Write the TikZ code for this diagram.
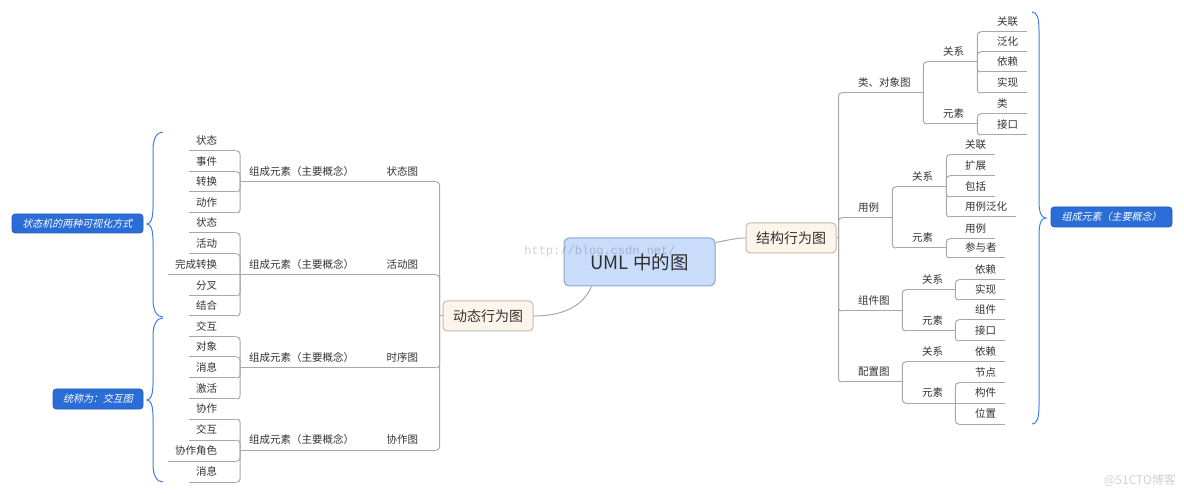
\documentclass[tikz,border=0pt]{standalone}
\usepackage{fontspec}
\setmainfont{Noto Sans CJK SC}
\newfontfamily\cjkit[FakeSlant=0.22]{Noto Sans CJK SC}
\newfontfamily\wmfont{Liberation Mono}
\usetikzlibrary{calc}
\definecolor{txt}{HTML}{333333}
\definecolor{lnc}{HTML}{A8A8A8}
\definecolor{corefill}{HTML}{C9DCFA}
\definecolor{coredraw}{HTML}{8AA5D0}
\definecolor{subfill}{HTML}{FDF4EB}
\definecolor{subdraw}{HTML}{C4BBB1}
\definecolor{tagblue}{HTML}{2A6DD6}
\definecolor{braceblue}{HTML}{3C7EE6}
\tikzset{
  topic/.style={inner sep=0pt, minimum height=20pt, text=txt, font=\fontsize{10.5}{12}\selectfont},
  ln/.style={draw=lnc, line width=1pt},
  cn/.style={draw=lnc, line width=1pt, rounded corners=3pt},
  core/.style={draw=coredraw, fill=corefill, rounded corners=5pt, line width=1pt, text=txt!90!black, font=\fontsize{18.5}{22}\selectfont, minimum width=151pt, minimum height=48pt, inner sep=0pt},
  sub/.style={draw=subdraw, fill=subfill, rounded corners=4pt, line width=1pt, text=txt, font=\fontsize{14}{16}\selectfont, minimum width=90pt, minimum height=30pt, inner sep=0pt},
  tag/.style={draw=tagblue!85!black, fill=tagblue, rounded corners=3pt, text=white, font=\cjkit\fontsize{10}{12}\selectfont, inner sep=0pt, line width=0.6pt},
  brace/.style={draw=braceblue, line width=1pt},
  wm/.style={text=black, opacity=0.18, inner sep=0pt}
}
\newcommand\RT[6]{\node[topic,anchor=south west] (#1) at (#2,#3) {\makebox[#4pt][l]{\hspace*{#5pt}#6}}; \draw[ln] (#1.south west) -- (#1.south east);}
\newcommand\LT[6]{\node[topic,anchor=south west] (#1) at (#2,#3) {\makebox[#4pt][r]{#6\hspace*{#5pt}}}; \draw[ln] (#1.south west) -- (#1.south east);}
\begin{document}
\begin{tikzpicture}[x=1pt,y=-1pt]
\fill[white] (0,0) rectangle (1184,494);
\useasboundingbox (0,0) rectangle (1184,494);

% main boxes
\node[core] (uml) at (639.5,262) {UML 中的图};
\node[sub] (dyn) at (488,316) {动态行为图};
\node[sub] (str) at (791,238) {结构行为图};
\draw[ln] ($(uml.north east)+(0,5)$) .. controls (729,240) and (736,238) .. (str.west);
\draw[ln] ($(uml.south west)+(28,0)$) .. controls (584,304) and (566,316) .. (dyn.east);

% ---------- right side ----------
\draw[ln] (str.east) -- ++(2,0) coordinate (sv);
\RT{cls}{842}{93}{81}{16}{类、对象图}
\RT{uc}{842}{218}{50}{16}{用例}
\RT{cmp}{842}{311}{60}{16}{组件图}
\RT{dep}{842}{382}{60}{16}{配置图}
\foreach \c in {cls,uc,cmp,dep} \draw[cn] (sv) |- (\c.south west);

\RT{clsR}{927}{62}{50}{16}{关系}
\RT{clsE}{927}{124}{50}{16}{元素}
\RT{ucR}{896}{187}{50}{16}{关系}
\RT{ucE}{896}{248}{50}{16}{元素}
\RT{cmpR}{906}{290}{49}{16}{关系}
\RT{cmpE}{906}{331}{49}{16}{元素}
\RT{depR}{906}{362}{49}{16}{关系}
\RT{depE}{906}{403}{49}{16}{元素}
\foreach \c in {clsR,clsE} \draw[cn] (cls.south east) |- (\c.south west);
\foreach \c in {ucR,ucE} \draw[cn] (uc.south east) |- (\c.south west);
\foreach \c in {cmpR,cmpE} \draw[cn] (cmp.south east) |- (\c.south west);
\foreach \c in {depR,depE} \draw[cn] (dep.south east) |- (\c.south west);

\RT{a1}{981}{32}{46}{16}{关联}
\RT{a2}{981}{52}{46}{16}{泛化}
\RT{a3}{981}{72}{46}{16}{依赖}
\RT{a4}{981}{93}{46}{16}{实现}
\RT{b1}{981}{114}{46}{16}{类}
\RT{b2}{981}{135}{46}{16}{接口}
\RT{c1}{950}{155}{45}{15}{关联}
\RT{c2}{950}{176}{45}{15}{扩展}
\RT{c3}{950}{197}{45}{15}{包括}
\RT{c4}{950}{217}{66}{15}{用例泛化}
\RT{d1}{950}{239}{45}{15}{用例}
\RT{d2}{950}{258}{55}{15}{参与者}
\RT{e1}{959}{280}{46}{16}{依赖}
\RT{e2}{959}{300}{46}{16}{实现}
\RT{f1}{959}{320}{46}{16}{组件}
\RT{f2}{959}{341}{46}{16}{接口}
\RT{g1}{959}{362}{46}{16}{依赖}
\RT{h1}{959}{383}{46}{16}{节点}
\RT{h2}{959}{403}{46}{16}{构件}
\RT{h3}{959}{424}{46}{16}{位置}
\foreach \c in {a1,a2,a3,a4} \draw[cn] (clsR.south east) |- (\c.south west);
\foreach \c in {b1,b2} \draw[cn] (clsE.south east) |- (\c.south west);
\foreach \c in {c1,c2,c3,c4} \draw[cn] (ucR.south east) |- (\c.south west);
\foreach \c in {d1,d2} \draw[cn] (ucE.south east) |- (\c.south west);
\foreach \c in {e1,e2} \draw[cn] (cmpR.south east) |- (\c.south west);
\foreach \c in {f1,f2} \draw[cn] (cmpE.south east) |- (\c.south west);
\draw[ln] (depR.south east) -- (g1.south west);
\foreach \c in {h1,h3} \draw[cn] (depE.south east) |- (\c.south west);
\draw[ln] (depE.south east) -- (h2.south west);

% ---------- left side ----------
\draw[ln] (dyn.west) -- ++(-3,0) coordinate (dv);
\LT{st}{378}{182}{58}{18}{状态图}
\LT{ac}{378}{275}{58}{18}{活动图}
\LT{sq}{378}{368}{58}{18}{时序图}
\LT{co}{378}{450}{58}{18}{协作图}
\foreach \c in {st,ac,sq,co} \draw[cn] (dv) |- (\c.south east);

\RT{z1}{240}{182}{134}{9}{组成元素（主要概念）}
\RT{z2}{240}{275}{134}{9}{组成元素（主要概念）}
\RT{z3}{240}{368}{134}{9}{组成元素（主要概念）}
\RT{z4}{240}{450}{134}{9}{组成元素（主要概念）}
\draw[ln] (st.south west) -- (z1.south east);
\draw[ln] (ac.south west) -- (z2.south east);
\draw[ln] (sq.south west) -- (z3.south east);
\draw[ln] (co.south west) -- (z4.south east);

\LT{p1}{189}{151}{47}{19}{状态}
\LT{p2}{189}{172}{47}{19}{事件}
\LT{p3}{189}{192}{47}{19}{转换}
\LT{p4}{189}{213}{47}{19}{动作}
\LT{q1}{189}{233}{47}{19}{状态}
\LT{q2}{189}{254}{47}{19}{活动}
\LT{q3}{168}{275}{68}{19}{完成转换}
\LT{q4}{189}{296}{47}{19}{分叉}
\LT{q5}{189}{316}{47}{19}{结合}
\LT{r1}{189}{337}{47}{19}{交互}
\LT{r2}{189}{357}{47}{19}{对象}
\LT{r3}{189}{378}{47}{19}{消息}
\LT{r4}{189}{399}{47}{19}{激活}
\LT{s1}{189}{419}{47}{19}{协作}
\LT{s2}{189}{440}{47}{19}{交互}
\LT{s3}{168}{461}{68}{19}{协作角色}
\LT{s4}{189}{482}{47}{19}{消息}
\foreach \c in {p1,p2,p3,p4} \draw[cn] (z1.south west) |- (\c.south east);
\foreach \c in {q1,q2,q4,q5} \draw[cn] (z2.south west) |- (\c.south east);
\draw[ln] (z2.south west) -- (q3.south east);
\foreach \c in {r1,r2,r3,r4} \draw[cn] (z3.south west) |- (\c.south east);
\foreach \c in {s1,s2,s3,s4} \draw[cn] (z4.south west) |- (\c.south east);

% ---------- braces and tags ----------
\draw[brace] (163,132) .. controls (157,132) and (153,138) .. (153,150) -- (153,207)
  .. controls (153,218) and (151,224) .. (147,224) .. controls (151,224) and (153,230) .. (153,241)
  -- (153,299) .. controls (153,311) and (157,317) .. (163,317);
\draw[brace] (163,318) .. controls (157,318) and (153,324) .. (153,336) -- (153,383)
  .. controls (153,394) and (151,400) .. (147,400) .. controls (151,400) and (153,406) .. (153,417)
  -- (153,464) .. controls (153,476) and (157,482) .. (163,482);
\draw[brace] (1032,12) .. controls (1037,12) and (1039,18) .. (1039,30) -- (1039,201)
  .. controls (1039,212) and (1041,218) .. (1046,218) .. controls (1041,218) and (1039,224) .. (1039,235)
  -- (1039,406) .. controls (1039,418) and (1037,424) .. (1032,424);
\node[tag, minimum width=131pt, minimum height=19pt] (t1) at (77.5,223.5) {状态机的两种可视化方式};
\node[tag, minimum width=90pt, minimum height=20pt] (t2) at (98,399) {统称为：交互图};
\node[tag, minimum width=121pt, minimum height=20pt] (t3) at (1111.5,217) {组成元素（主要概念）};

% ---------- watermarks ----------
\node[wm, font=\wmfont\fontsize{12}{14}\selectfont] (w1) at (600,251) {http://blog.csdn.net/};
\node[wm, font=\fontsize{12}{14}\selectfont] (w2) at (1140,480) {@51CTO博客};
\end{tikzpicture}
\end{document}
